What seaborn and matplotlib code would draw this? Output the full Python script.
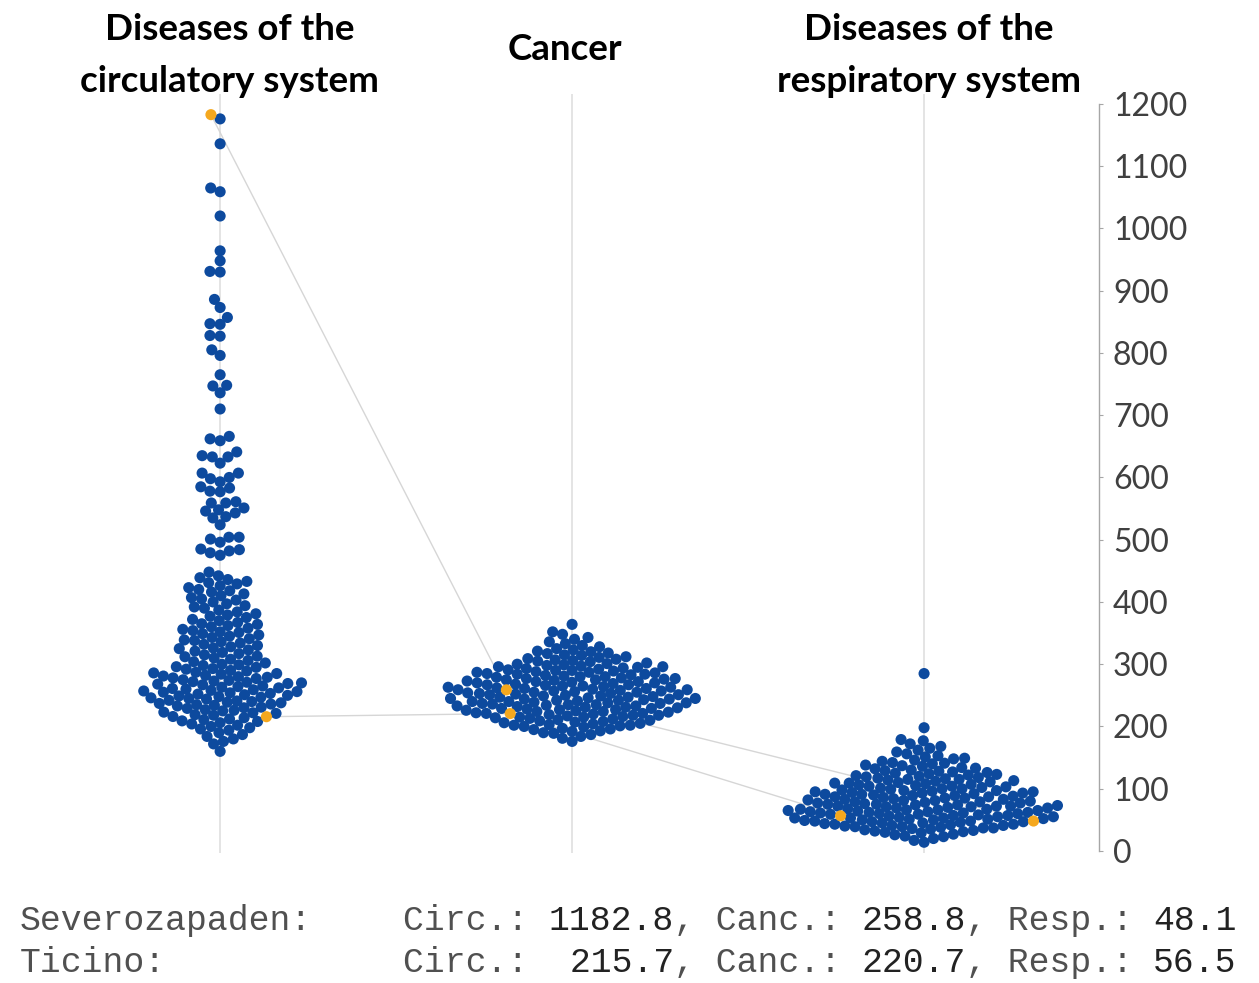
import numpy as np
import pandas as pd
import seaborn as sns
import matplotlib.pyplot as plt
from matplotlib.transforms import blended_transform_factory

# death rates (per 100k) for every region
circ_rates = [
    1176, 1136, 1065, 1059, 1020, 964, 948, 931, 930, 886, 873, 857, 847, 846,
    828, 827, 805, 796, 765, 748, 747, 736, 710, 666, 662, 659,
    641, 635, 633, 633, 623, 607, 607, 600, 598, 593, 585, 583, 578, 577,
    561, 559, 559, 551, 548, 546, 543, 537, 535, 524, 504, 504, 501, 496,
    485, 484, 482, 479, 475, 448,
    442, 439, 436, 433, 431,
    429, 426, 423, 420, 418,
    416, 413, 410, 407, 405,
    403, 400, 397, 394, 392,
    390, 387, 384, 381, 379,
    377, 375, 372, 370, 367, 365,
    364, 362, 360, 358, 356, 354, 352,
    351, 349, 347, 345, 343, 341, 339,
    338, 336, 334, 332, 330, 328, 326,
    325, 323, 321, 319, 317, 315, 313,
    312, 310, 308, 306, 304, 302, 300,
    299, 298, 296, 295, 293, 292, 290, 289, 287,
    286, 285, 284, 282, 281, 280, 279, 278, 277, 275, 274,
    273, 272, 271, 270, 269, 268, 267, 265, 264, 263, 262, 261,
    260, 259, 258, 257, 256, 255, 254, 253, 252, 251, 250, 249, 248,
    247, 246, 245, 244, 242, 241, 240, 239, 238, 237, 236, 235,
    234, 233, 231, 230, 229, 227, 226, 225, 223, 222,
    221, 219, 218, 216, 214, 212, 211, 209,
    208, 206, 204, 202, 200, 198, 196,
    194, 190, 187, 184, 180, 176, 172, 160,
]

canc_rates = [
    364, 352, 348, 343, 340, 336,
    333, 330, 328, 325, 323,
    321, 320, 318, 317, 315, 314, 312, 311,
    309, 308, 307, 306, 305, 304, 302, 301, 300, 299, 298,
    297, 296, 296, 295, 294, 293, 292, 291, 290, 290, 289, 288, 287, 287, 286,
    285, 284, 284, 283, 282, 281, 280, 280, 279, 278, 277, 277, 276, 275, 275, 274,
    273, 272, 272, 271, 270, 270, 269, 268, 267, 267, 266, 265, 265, 264, 263, 263, 262,
    261, 261, 260, 259, 259, 258, 257, 257, 256, 255, 255, 254, 253, 253, 252, 251, 251, 250,
    249, 249, 248, 247, 247, 246, 245, 245, 244, 244, 243, 242, 242, 241, 240, 240, 239, 238, 238,
    237, 237, 236, 235, 235, 234, 233, 233, 232, 231, 231, 230, 229, 229, 228, 227, 227, 226,
    225, 224, 224, 223, 222, 221, 221, 220, 219, 218, 218, 217, 216, 215, 215, 214,
    213, 212, 211, 210, 209, 208, 207, 206, 205, 204, 203, 202, 202,
    201, 200, 199, 197, 196, 195, 193, 192, 190, 189, 187, 184, 181, 176,
]

resp_rates = [
    285, 198, 179, 177, 172, 168,
    165, 162, 159, 156,
    153, 151, 149, 148, 146, 144, 142,
    141, 140, 138, 137, 136, 134, 133, 132, 130,
    129, 128, 127, 126, 125, 124, 123, 122, 121, 120, 119, 118,
    117, 116, 115, 115, 114, 113, 112, 111, 110, 109, 109, 108, 107, 106,
    105, 104, 104, 103, 102, 101, 100, 100, 99, 98, 97, 97, 96, 95, 95, 94,
    93, 93, 92, 91, 91, 90, 89, 89, 88, 87, 87, 86, 85, 85, 84, 83, 83, 82,
    81, 81, 80, 79, 79, 78, 77, 77, 76, 75, 75, 74, 74, 73, 72, 72, 72, 71, 71, 70,
    69, 69, 68, 67, 67, 66, 66, 65, 65, 64, 63, 63, 62, 62, 61, 61, 60, 60, 59, 59, 58,
    57, 57, 56, 55, 55, 54, 53, 53, 53, 52, 51, 51, 50, 50, 49, 48, 48, 47, 47, 46,
    45, 45, 44, 43, 43, 42, 41, 41, 40, 39, 39, 38, 37, 37, 36, 35, 34,
    33, 32, 31, 30, 29, 27, 26, 24, 23, 20, 17, 14,
]

cause_keys = ['circ', 'canc', 'resp']
cause_titles = [['Diseases of the', 'circulatory system'], ['Cancer'],
                ['Diseases of the', 'respiratory system']]

highlight_names = ['Severozapaden', 'Ticino']
highlight_circ = [1182.8, 215.7]
highlight_canc = [258.8, 220.7]
highlight_resp = [48.1, 56.5]

blue = '#0d4a9e'
orange = '#f5a81e'

# long table for seaborn
rows = []
for key, vals, hl in zip(cause_keys, [circ_rates, canc_rates, resp_rates],
                         [highlight_circ, highlight_canc, highlight_resp]):
    for v in vals:
        rows.append((key, v, 'other'))
    for name, v in zip(highlight_names, hl):
        rows.append((key, v, name))
df = pd.DataFrame(rows, columns=['cause', 'rate', 'region'])

sns.set_style('white')
plt.rcParams['font.family'] = ['Lato', 'DejaVu Sans']

W, H = 1259, 983
fig = plt.figure(figsize=(W / 100, H / 100), dpi=100)
# category centres at 220/572/924 px, value axis on the right at 1099 px
ax = fig.add_axes([10 / W, (H - 857.2) / H, 1089 / W, 765.7 / H])

palette = {'other': blue, 'Severozapaden': orange, 'Ticino': orange}
sns.swarmplot(data=df, x='cause', y='rate', hue='region', order=cause_keys,
              hue_order=['other'] + highlight_names, palette=palette,
              size=7, linewidth=0, legend=False, ax=ax, zorder=3)

ax.set_xlim(-0.597, 2.497)
ax.set_ylim(-10, 1220)
ax.set_xticks([])
ax.set_xlabel('')
ax.set_ylabel('')

for side in ['left', 'top', 'bottom']:
    ax.spines[side].set_visible(False)
ax.spines['right'].set_bounds(0, 1200)
ax.spines['right'].set_color('#a6a6a6')
ax.spines['right'].set_linewidth(1)
ax.yaxis.tick_right()
ax.set_yticks(range(0, 1201, 100))
ax.tick_params(axis='y', direction='out', length=3, width=0.8, color='#a6a6a6',
               pad=7, labelsize=23, labelcolor='#404040')

# swarm positions are computed at draw time, so draw once and read them back
fig.canvas.draw()
swarms = list(ax.collections)
spots = {name: [] for name in highlight_names}
for coll, hl in zip(swarms, [highlight_circ, highlight_canc, highlight_resp]):
    xy = np.asarray(coll.get_offsets())
    for name, v in zip(highlight_names, hl):
        i = np.argmin(np.abs(xy[:, 1] - v))
        spots[name].append(xy[i])
    # freeze the layout, then draw the dots a touch larger so the swarm reads as a solid mass
    if 'draw' in coll.__dict__:
        del coll.draw
    coll.set_sizes([8.0 ** 2])

ax.vlines(range(3), -3, 1216, color='#dcdcdc', lw=1.1, zorder=0)
for name in highlight_names:
    pts = np.array(spots[name])
    ax.plot(pts[:, 0], pts[:, 1], color='#d6d6d6', lw=1, zorder=1)

# category titles
trans = blended_transform_factory(ax.transData, fig.transFigure)
title_x = [0.026, 0.98, 2.014]
for x, lines in zip(title_x, cause_titles):
    baselines = [60] if len(lines) == 1 else [40, 92]
    for text, base in zip(lines, baselines):
        ax.text(x, 1 - base / H, text, transform=trans, ha='center', va='baseline',
                fontsize=26.5, fontweight='bold', color='black')

# footer with the two highlighted regions
mono = 'Liberation Mono'
fsize = 25
adv = 0.6 * fsize * 100 / 72
footer = [
    ('Severozapaden:', 930, ['Circ.: ', '1182.8', ', Canc.: ', '258.8', ', Resp.: ', '48.1']),
    ('Ticino:', 972, ['Circ.: ', ' 215.7', ', Canc.: ', '220.7', ', Resp.: ', '56.5']),
]
for name, base, parts in footer:
    fig.text(20 / W, 1 - base / H, name, family=mono, fontsize=fsize, color='#505050', va='baseline')
    pos = 0
    for k, part in enumerate(parts):
        color = '#505050' if k % 2 == 0 else '#222222'
        fig.text((403 + pos * adv) / W, 1 - base / H, part, family=mono, fontsize=fsize,
                 color=color, va='baseline')
        pos += len(part)

fig.savefig('out.png', dpi=100)
